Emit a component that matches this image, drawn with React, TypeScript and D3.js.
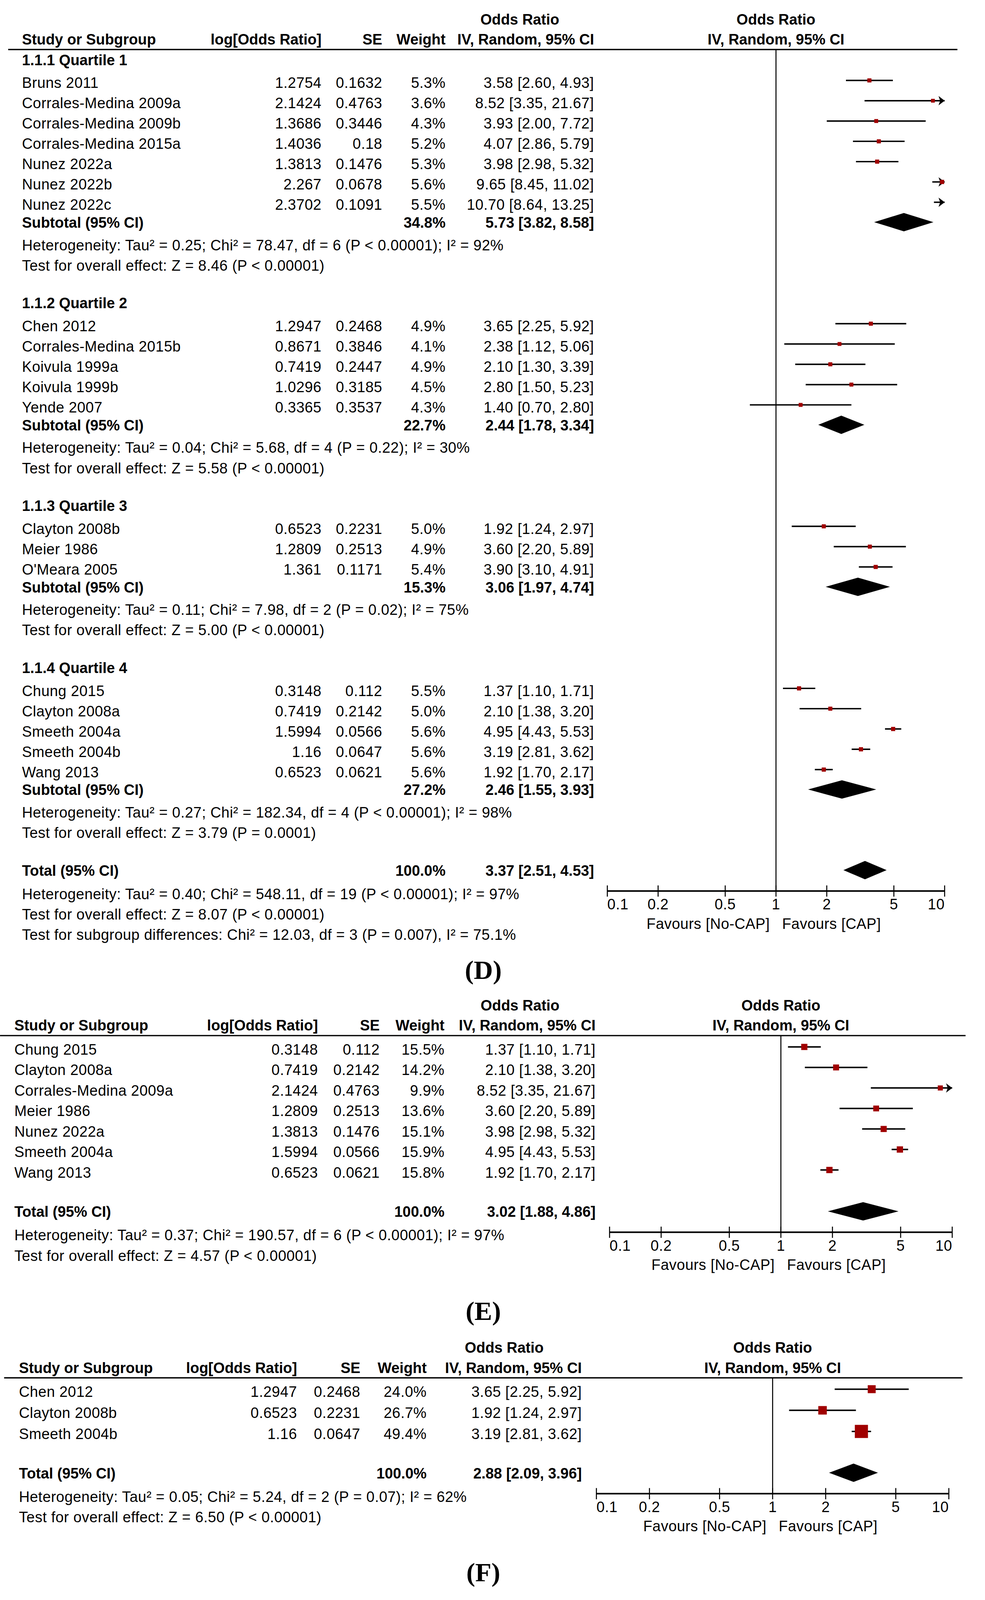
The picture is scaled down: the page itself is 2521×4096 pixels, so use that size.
import { useEffect, useRef } from 'react';
import * as d3 from 'd3';

// [study, log[OR], SE, weight %, OR, lower, upper]
type StudyRow = [string, string, string, number, number, number, number];
// [weight %, OR, lower, upper]
type Pooled = [number, number, number, number];

// ── panel D: quartile subgroups ──
const quartile1: StudyRow[] = [
  ['Bruns 2011', '1.2754', '0.1632', 5.3, 3.58, 2.6, 4.93],
  ['Corrales-Medina 2009a', '2.1424', '0.4763', 3.6, 8.52, 3.35, 21.67],
  ['Corrales-Medina 2009b', '1.3686', '0.3446', 4.3, 3.93, 2.0, 7.72],
  ['Corrales-Medina 2015a', '1.4036', '0.18', 5.2, 4.07, 2.86, 5.79],
  ['Nunez 2022a', '1.3813', '0.1476', 5.3, 3.98, 2.98, 5.32],
  ['Nunez 2022b', '2.267', '0.0678', 5.6, 9.65, 8.45, 11.02],
  ['Nunez 2022c', '2.3702', '0.1091', 5.5, 10.7, 8.64, 13.25],
];
const quartile2: StudyRow[] = [
  ['Chen 2012', '1.2947', '0.2468', 4.9, 3.65, 2.25, 5.92],
  ['Corrales-Medina 2015b', '0.8671', '0.3846', 4.1, 2.38, 1.12, 5.06],
  ['Koivula 1999a', '0.7419', '0.2447', 4.9, 2.1, 1.3, 3.39],
  ['Koivula 1999b', '1.0296', '0.3185', 4.5, 2.8, 1.5, 5.23],
  ['Yende 2007', '0.3365', '0.3537', 4.3, 1.4, 0.7, 2.8],
];
const quartile3: StudyRow[] = [
  ['Clayton 2008b', '0.6523', '0.2231', 5.0, 1.92, 1.24, 2.97],
  ['Meier 1986', '1.2809', '0.2513', 4.9, 3.6, 2.2, 5.89],
  ["O'Meara 2005", '1.361', '0.1171', 5.4, 3.9, 3.1, 4.91],
];
const quartile4: StudyRow[] = [
  ['Chung 2015', '0.3148', '0.112', 5.5, 1.37, 1.1, 1.71],
  ['Clayton 2008a', '0.7419', '0.2142', 5.0, 2.1, 1.38, 3.2],
  ['Smeeth 2004a', '1.5994', '0.0566', 5.6, 4.95, 4.43, 5.53],
  ['Smeeth 2004b', '1.16', '0.0647', 5.6, 3.19, 2.81, 3.62],
  ['Wang 2013', '0.6523', '0.0621', 5.6, 1.92, 1.7, 2.17],
];
const quartileTitles = ['1.1.1 Quartile 1', '1.1.2 Quartile 2', '1.1.3 Quartile 3', '1.1.4 Quartile 4'];
const quartileSubtotals: Pooled[] = [
  [34.8, 5.73, 3.82, 8.58],
  [22.7, 2.44, 1.78, 3.34],
  [15.3, 3.06, 1.97, 4.74],
  [27.2, 2.46, 1.55, 3.93],
];
const quartileHet = [
  'Heterogeneity: Tau² = 0.25; Chi² = 78.47, df = 6 (P < 0.00001); I² = 92%',
  'Heterogeneity: Tau² = 0.04; Chi² = 5.68, df = 4 (P = 0.22); I² = 30%',
  'Heterogeneity: Tau² = 0.11; Chi² = 7.98, df = 2 (P = 0.02); I² = 75%',
  'Heterogeneity: Tau² = 0.27; Chi² = 182.34, df = 4 (P < 0.00001); I² = 98%',
];
const quartileTest = [
  'Test for overall effect: Z = 8.46 (P < 0.00001)',
  'Test for overall effect: Z = 5.58 (P < 0.00001)',
  'Test for overall effect: Z = 5.00 (P < 0.00001)',
  'Test for overall effect: Z = 3.79 (P = 0.0001)',
];
const totalD: Pooled = [100.0, 3.37, 2.51, 4.53];
const notesD = [
  'Heterogeneity: Tau² = 0.40; Chi² = 548.11, df = 19 (P < 0.00001); I² = 97%',
  'Test for overall effect: Z = 8.07 (P < 0.00001)',
  'Test for subgroup differences: Chi² = 12.03, df = 3 (P = 0.007), I² = 75.1%',
];

// ── panel E ──
const studiesE: StudyRow[] = [
  ['Chung 2015', '0.3148', '0.112', 15.5, 1.37, 1.1, 1.71],
  ['Clayton 2008a', '0.7419', '0.2142', 14.2, 2.1, 1.38, 3.2],
  ['Corrales-Medina 2009a', '2.1424', '0.4763', 9.9, 8.52, 3.35, 21.67],
  ['Meier 1986', '1.2809', '0.2513', 13.6, 3.6, 2.2, 5.89],
  ['Nunez 2022a', '1.3813', '0.1476', 15.1, 3.98, 2.98, 5.32],
  ['Smeeth 2004a', '1.5994', '0.0566', 15.9, 4.95, 4.43, 5.53],
  ['Wang 2013', '0.6523', '0.0621', 15.8, 1.92, 1.7, 2.17],
];
const totalE: Pooled = [100.0, 3.02, 1.88, 4.86];
const notesE = [
  'Heterogeneity: Tau² = 0.37; Chi² = 190.57, df = 6 (P < 0.00001); I² = 97%',
  'Test for overall effect: Z = 4.57 (P < 0.00001)',
];

// ── panel F ──
const studiesF: StudyRow[] = [
  ['Chen 2012', '1.2947', '0.2468', 24.0, 3.65, 2.25, 5.92],
  ['Clayton 2008b', '0.6523', '0.2231', 26.7, 1.92, 1.24, 2.97],
  ['Smeeth 2004b', '1.16', '0.0647', 49.4, 3.19, 2.81, 3.62],
];
const totalF: Pooled = [100.0, 2.88, 2.09, 3.96];
const notesF = [
  'Heterogeneity: Tau² = 0.05; Chi² = 5.24, df = 2 (P = 0.07); I² = 62%',
  'Test for overall effect: Z = 6.50 (P < 0.00001)',
];

const tickValues = [0.1, 0.2, 0.5, 1, 2, 5, 10];
const tickLabels = ['0.1', '0.2', '0.5', '1', '2', '5', '10'];
const headerCols = ['Study or Subgroup', 'log[Odds Ratio]', 'SE', 'Weight', 'IV, Random, 95% CI'];
const favours = ['Favours [No-CAP]', 'Favours [CAP]'];

type Row =
  | { kind: 'group'; text: string }
  | { kind: 'study'; d: StudyRow }
  | { kind: 'subtotal' | 'total'; d: Pooled }
  | { kind: 'het' | 'test' | 'note'; text: string };

function buildRowsD(): Row[] {
  const groups = [quartile1, quartile2, quartile3, quartile4];
  const rows: Row[] = [];
  groups.forEach((g, i) => {
    rows.push({ kind: 'group', text: quartileTitles[i] });
    g.forEach((d) => rows.push({ kind: 'study', d }));
    rows.push({ kind: 'subtotal', d: quartileSubtotals[i] });
    rows.push({ kind: 'het', text: quartileHet[i] });
    rows.push({ kind: 'test', text: quartileTest[i] });
  });
  rows.push({ kind: 'total', d: totalD });
  notesD.forEach((t) => rows.push({ kind: 'note', text: t }));
  return rows;
}

function buildRowsSimple(studies: StudyRow[], total: Pooled, notes: string[]): Row[] {
  const rows: Row[] = studies.map((d) => ({ kind: 'study', d }) as Row);
  rows.push({ kind: 'total', d: total });
  notes.forEach((t) => rows.push({ kind: 'note', text: t }));
  return rows;
}

interface Panel {
  label: string;
  headY: number; // baseline of the column header row
  nameX: number;
  colX: number[]; // right edges: log OR, SE, weight, CI
  rule: [number, number];
  range: [number, number];
  step: number;
  rows: Row[];
}

const panels: Panel[] = [
  { label: '(D)', headY: 43.6, nameX: 21.5, colX: [315, 374.5, 436.5, 582], rule: [8, 938], range: [595, 925.5], step: 19.9, rows: buildRowsD() },
  { label: '(E)', headY: 1010, nameX: 14, colX: [311.5, 372, 435.5, 583.5], rule: [0, 946], range: [597.2, 932.9], step: 20.1, rows: buildRowsSimple(studiesE, totalE, notesE) },
  { label: '(F)', headY: 1345.4, nameX: 18.5, colX: [291, 353, 418, 570], rule: [4, 943], range: [584.3, 929.6], step: 20.7, rows: buildRowsSimple(studiesF, totalF, notesF) },
];

// baseline-to-baseline spacing between table lines
function gap(prev: string, cur: string, step: number) {
  if (cur === 'study') return prev === 'study' ? step : prev === 'group' ? 22.5 : 23.5;
  if (cur === 'group') return prev === 'header' ? 20.2 : 37;
  if (cur === 'subtotal') return 17.5;
  if (cur === 'total') return prev === 'test' ? 37 : 38.5;
  if (cur === 'het') return prev === 'subtotal' ? 22 : 23;
  if (cur === 'note' && prev === 'total') return 23;
  return 20;
}

const MARKER = '#a00000';
const FONT = 'Liberation Sans, Arial, Helvetica, sans-serif';

const ciText = (or: number, lo: number, hi: number) => `${or.toFixed(2)} [${lo.toFixed(2)}, ${hi.toFixed(2)}]`;

function drawPanel(svg: d3.Selection<SVGSVGElement, unknown, null, undefined>, p: Panel) {
  const g = svg.append('g').attr('font-family', FONT).attr('font-size', 14.5).attr('fill', '#000');
  const x = d3.scaleLog().domain([0.1, 10]).range(p.range);
  const x1 = x(1);

  const text = (tx: number, ty: number, s: string, anchor = 'start', bold = false) =>
    g.append('text')
      .attr('x', tx)
      .attr('y', ty)
      .attr('text-anchor', anchor)
      .attr('font-weight', bold ? 'bold' : 'normal')
      .attr('letter-spacing', bold ? 0 : 0.2)
      .text(s);

  // ── headers ──
  const [cLog, cSe, cW, cCi] = p.colX;
  text((cW + cCi) / 2, p.headY - 19.6, 'Odds Ratio', 'middle', true);
  text(x1, p.headY - 19.6, 'Odds Ratio', 'middle', true);
  text(p.nameX, p.headY, headerCols[0], 'start', true);
  text(cLog, p.headY, headerCols[1], 'end', true);
  text(cSe, p.headY, headerCols[2], 'end', true);
  text(cW, p.headY, headerCols[3], 'end', true);
  text(cCi, p.headY, headerCols[4], 'end', true);
  text(x1, p.headY, headerCols[4], 'middle', true);

  const ruleY = p.headY + 4.9;
  g.append('line')
    .attr('x1', p.rule[0]).attr('x2', p.rule[1])
    .attr('y1', ruleY).attr('y2', ruleY)
    .attr('stroke', '#000').attr('stroke-width', 1.3);

  // ── row positions ──
  let y = p.headY;
  let prev = 'header';
  const placed = p.rows.map((r) => {
    y += gap(prev, r.kind, p.step);
    prev = r.kind;
    return { r, y };
  });
  const totalRow = placed.find((d) => d.r.kind === 'total')!;
  const axisY = totalRow.y + 15;

  // null line
  g.append('line')
    .attr('x1', x1).attr('x2', x1)
    .attr('y1', ruleY).attr('y2', axisY)
    .attr('stroke', '#000').attr('stroke-width', 1);

  const diamond = (d: Pooled, cy: number) => {
    const [, or, lo, hi] = d;
    const pts: [number, number][] = [
      [x(lo), cy], [x(or), cy - 9], [x(hi), cy], [x(or), cy + 9],
    ];
    g.append('path')
      .attr('d', d3.line()(pts) + 'Z')
      .attr('fill', '#000');
  };

  placed.forEach(({ r, y: by }) => {
    if (r.kind === 'group') {
      text(p.nameX, by, r.text, 'start', true);
    } else if (r.kind === 'study') {
      const [name, lor, se, w, or, lo, hi] = r.d;
      text(p.nameX, by, name);
      text(cLog, by, lor, 'end');
      text(cSe, by, se, 'end');
      text(cW, by, `${w.toFixed(1)}%`, 'end');
      text(cCi, by, ciText(or, lo, hi), 'end');

      const cy = by - 7.5;
      const xl = x(Math.max(lo, 0.1));
      const xr = x(Math.min(hi, 10));
      g.append('line')
        .attr('x1', xl).attr('x2', xr)
        .attr('y1', cy).attr('y2', cy)
        .attr('stroke', '#000').attr('stroke-width', 1.4);
      if (hi > 10) {
        const tip = x(10);
        g.append('path')
          .attr('d', `M${tip},${cy} L${tip - 6},${cy - 4.6} L${tip - 4.4},${cy} L${tip - 6},${cy + 4.6} Z`)
          .attr('fill', '#000');
      }
      if (or >= 0.1 && or <= 10) {
        const side = 3.0 + 0.2 * w;
        g.append('rect')
          .attr('x', x(or) - side / 2)
          .attr('y', cy - side / 2)
          .attr('width', side)
          .attr('height', side)
          .attr('fill', MARKER);
      }
    } else if (r.kind === 'subtotal' || r.kind === 'total') {
      const [w, or, lo, hi] = r.d;
      text(p.nameX, by, r.kind === 'total' ? 'Total (95% CI)' : 'Subtotal (95% CI)', 'start', true);
      text(cW, by, `${w.toFixed(1)}%`, 'end', true);
      text(cCi, by, ciText(or, lo, hi), 'end', true);
      diamond(r.d, by - 5.5);
    } else {
      text(p.nameX, by, r.text);
    }
  });

  // ── axis ──
  g.append('line')
    .attr('x1', x(0.1)).attr('x2', x(10))
    .attr('y1', axisY).attr('y2', axisY)
    .attr('stroke', '#000').attr('stroke-width', 1.5);
  tickValues.forEach((t, i) => {
    g.append('line')
      .attr('x1', x(t)).attr('x2', x(t))
      .attr('y1', axisY - 5.5).attr('y2', axisY + 5.5)
      .attr('stroke', '#000').attr('stroke-width', 1);
    const anchor = i === 0 ? 'start' : i === tickValues.length - 1 ? 'end' : 'middle';
    text(x(t), axisY + 18, tickLabels[i], anchor);
  });
  text(x1 - 6, axisY + 37, favours[0], 'end');
  text(x1 + 6, axisY + 37, favours[1], 'start');

  // panel letter
  svg.append('text')
    .attr('x', 473.5)
    .attr('y', axisY + 86)
    .attr('text-anchor', 'middle')
    .attr('font-family', 'Liberation Serif, Times New Roman, serif')
    .attr('font-weight', 'bold')
    .attr('font-size', 26)
    .text(p.label);
}

export default function App() {
  const svgRef = useRef<SVGSVGElement>(null);

  useEffect(() => {
    if (!svgRef.current) return;
    const svg = d3.select(svgRef.current);
    svg.selectAll('*').remove();
    panels.forEach((p) => drawPanel(svg, p));
  }, []);

  return (
    <svg
      ref={svgRef}
      width={2521}
      height={4096}
      viewBox="0 0 965 1568"
      style={{ position: 'absolute', left: 0, top: 0, background: '#fff', display: 'block' }}
    />
  );
}
